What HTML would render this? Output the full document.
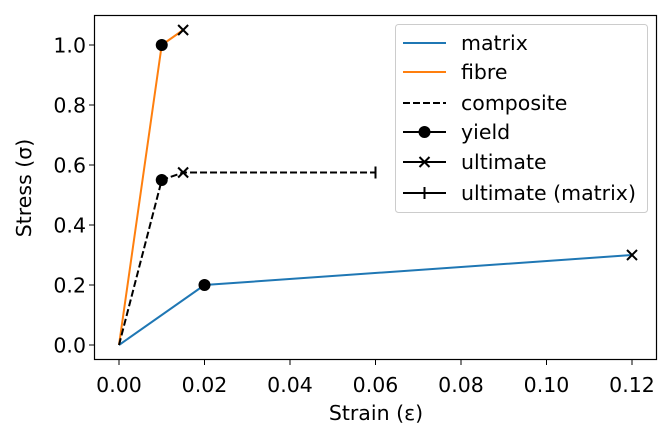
<!DOCTYPE html>
<html><head><meta charset="utf-8"><style>
body{margin:0;background:#fff}
svg{display:block;font-family:"DejaVu Sans","Liberation Sans",sans-serif}
</style></head><body>
<svg width="672" height="442" id="c">
<rect x="0" y="0" width="672" height="442" fill="#fff"/>
<g id="plot"></g>
</svg>
<script>
const xTicks=[0,0.02,0.04,0.06,0.08,0.10,0.12];
const xTickLabels=["0.00","0.02","0.04","0.06","0.08","0.10","0.12"];
const yTicks=[0,0.2,0.4,0.6,0.8,1.0];
const yTickLabels=["0.0","0.2","0.4","0.6","0.8","1.0"];
const matrixStrain=[0,0.02,0.12];
const matrixStress=[0,0.2,0.3];
const fibreStrain=[0,0.01,0.015];
const fibreStress=[0,1.0,1.05];
const compStrain=[0,0.01,0.015,0.06];
const compStress=[0,0.55,0.575,0.575];
const yieldStrain=[0.02,0.01,0.01];
const yieldStress=[0.2,1.0,0.55];
const ultStrain=[0.12,0.015,0.015];
const ultStress=[0.3,1.05,0.575];
const ultMatrixStrain=[0.06];
const ultMatrixStress=[0.575];

const NS="http://www.w3.org/2000/svg";
const X=v=>119+v/0.02*85.5;
const Y=v=>345-v*300;
const FS=20.5;
const g=document.getElementById('plot');
function mk(t,a,p){const e=document.createElementNS(NS,t);for(const k in a)e.setAttribute(k,a[k]);(p||g).appendChild(e);return e;}
function pts(xs,ys){return xs.map((x,i)=>X(x)+','+Y(ys[i])).join(' ');}

let e;
xTicks.forEach((t,i)=>{
 e=mk('line',{x1:X(t),x2:X(t),y1:360,y2:365,stroke:'#000','stroke-width':1});
 
 
 e=mk('text',{x:X(t),y:392,'text-anchor':'middle','font-size':FS,fill:'#000'});e.textContent=xTickLabels[i];
 
 
});
yTicks.forEach((t,i)=>{
 e=mk('line',{x1:89,x2:94,y1:Y(t),y2:Y(t),stroke:'#000','stroke-width':1});
 
 
 e=mk('text',{x:86,y:Y(t)+7.5,'text-anchor':'end','font-size':FS,fill:'#000'});e.textContent=yTickLabels[i];
 
 
});
e=mk('text',{x:376,y:420,'text-anchor':'middle','font-size':FS});e.textContent='Strain (ε)';


e=mk('text',{x:31,y:188,'text-anchor':'middle','font-size':FS,transform:'rotate(-90 31 188)'});e.textContent='Stress (σ)';



e=mk('polyline',{points:pts(matrixStrain,matrixStress),fill:'none',stroke:'#1f77b4','stroke-width':2});


e=mk('polyline',{points:pts(fibreStrain,fibreStress),fill:'none',stroke:'#ff7f0e','stroke-width':2});


e=mk('polyline',{points:pts(compStrain,compStress),fill:'none',stroke:'#000','stroke-width':2,'stroke-dasharray':'7,3'});



function dot(x,y,p){return mk('circle',{cx:x,cy:y,r:6,fill:'#000'},p);}
function cross(x,y,p){return mk('path',{d:`M${x-5},${y-5}L${x+5},${y+5}M${x-5},${y+5}L${x+5},${y-5}`,stroke:'#000','stroke-width':2},p);}
yieldStrain.forEach((s,i)=>{e=dot(X(s),Y(yieldStress[i]));
 
 });
ultStrain.forEach((s,i)=>{e=cross(X(s),Y(ultStress[i]));
 
 });
ultMatrixStrain.forEach((s,i)=>{const x=X(s),y=Y(ultMatrixStress[i]);
 e=mk('path',{d:`M${x},${y-6}L${x},${y+6}`,stroke:'#000','stroke-width':2});
 
 });

e=mk('rect',{x:94.5,y:15.5,width:562,height:344,fill:'none',stroke:'#000','stroke-width':1.2});



const lg=mk('g',{});


mk('rect',{x:395.5,y:24.5,width:252,height:188,rx:3,fill:'#fff','fill-opacity':0.8,stroke:'#ccc','stroke-width':1},lg);
const labels=['matrix','fibre','composite','yield','ultimate','ultimate (matrix)'];
const rowsY=[43,72,103,132,162,193];
labels.forEach((l,i)=>{
 const y=rowsY[i];
 const row=mk('g',{},lg);
 
 
 const col=i==0?'#1f77b4':i==1?'#ff7f0e':'#000';
 mk('line',{x1:403,x2:446,y1:y,y2:y,stroke:col,'stroke-width':2,'stroke-dasharray':i==2?'7,3':'none'},row);
 if(i==3)dot(424.5,y,row);
 if(i==4)cross(424.5,y,row);
 if(i==5)mk('path',{d:`M424.5,${y-6}L424.5,${y+6}`,stroke:'#000','stroke-width':2},row);
 const t=mk('text',{x:461,y:y+7,'font-size':FS},row);t.textContent=l;
});
</script>
</body></html>
